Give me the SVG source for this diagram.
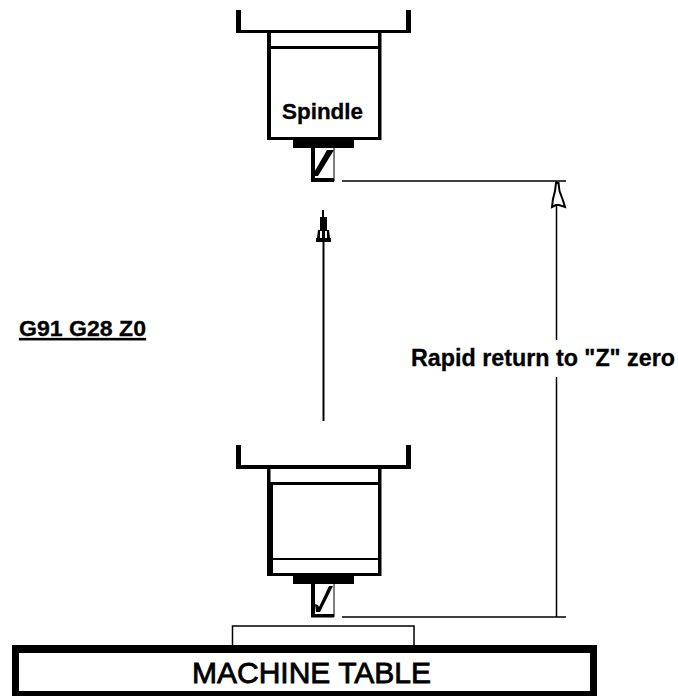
<svg xmlns="http://www.w3.org/2000/svg" width="678" height="696" viewBox="0 0 678 696">
<style>
.l{stroke:#000;fill:none;stroke-linecap:butt}
.b{fill:#000}
.t{font-family:"Liberation Sans",Arial,sans-serif;font-weight:bold;fill:#000;stroke:#000;stroke-width:.3}
</style>
<rect width="678" height="696" fill="#fff"/>
<g id="spindle-top">
<path class="b" d="M236 10h5v20h165v-20h5v23h-175z"/>
<rect class="b" x="267" y="33" width="4" height="107"/>
<rect class="b" x="378" y="33" width="3.500" height="107"/>
<rect class="b" x="267" y="46" width="114" height="3"/>
<rect class="b" x="267" y="137" width="114" height="3"/>
<rect class="b" x="293" y="140" width="61" height="8"/>
<path class="l" stroke-width="1" d="M334 148v33"/>
<path class="b" d="M311 148h4v30h19v4h-23z"/>
<path class="b" d="M327 150h7l-16 26h-6z"/>
<text class="t" x="282" y="119" font-size="22" textLength="81" lengthAdjust="spacingAndGlyphs">Spindle</text>
</g>
<g id="spindle-bottom">
<path class="b" d="M236 445h5v20h165v-20h5v24h-175z"/>
<rect class="b" x="378" y="469" width="3.500" height="107"/>
<rect class="b" x="267" y="469" width="3.500" height="13"/>
<rect class="b" x="267" y="482" width="6" height="94"/>
<rect class="b" x="267" y="482" width="114" height="3"/>
<rect class="b" x="267" y="558" width="114" height="2"/>
<rect class="b" x="267" y="573" width="114" height="3"/>
<rect class="b" x="293" y="576" width="61" height="8"/>
<path class="l" stroke-width="1" d="M334 584v33"/>
<path class="b" d="M311 584h4v30h19v3.500h-23z"/>
<path class="b" d="M329 586h4l-13 26h-4l-1-8 3 1 1 2z"/>
</g>
<g id="machine-table">
<path class="l" stroke-width="1.500" d="M232.500 646v-20h181.500v20"/>
<rect class="b" x="12" y="645" width="585" height="51"/>
<rect x="19" y="653" width="571" height="38" fill="#fff"/>
<text class="t" x="192" y="683" font-size="29" style="font-weight:normal;stroke-width:.8" textLength="239" lengthAdjust="spacingAndGlyphs">MACHINE TABLE</text>
</g>
<g id="connectors">
<path class="l" stroke-width="1.500" d="M342 181h224M342 617h224"/>
<path class="l" stroke-width="1.500" d="M556.500 181v159M556.500 377v240"/>
<path class="l" stroke-width="2" d="M323.500 240v181"/>
<path d="M556 183h2.500l1 8 3 8 2.500 8-6-2h-3l-4 2 1-8 2-8z" fill="#fff" stroke="#000" stroke-width="2"/>
<path class="b" d="M322 210h2v7h3v13h2l1 8h1v4h-15v-4h1l1-8h2v-13h2z"/>
<path d="M320 231h2v7h-2zM325 231h2v7h-2z" fill="#fff"/>
</g>
<text class="t" x="19" y="336" font-size="22" text-decoration="underline" textLength="127" lengthAdjust="spacingAndGlyphs">G91 G28 Z0</text>
<text class="t" x="411" y="366" font-size="23" textLength="264" lengthAdjust="spacingAndGlyphs">Rapid return to "Z" zero</text>
</svg>
